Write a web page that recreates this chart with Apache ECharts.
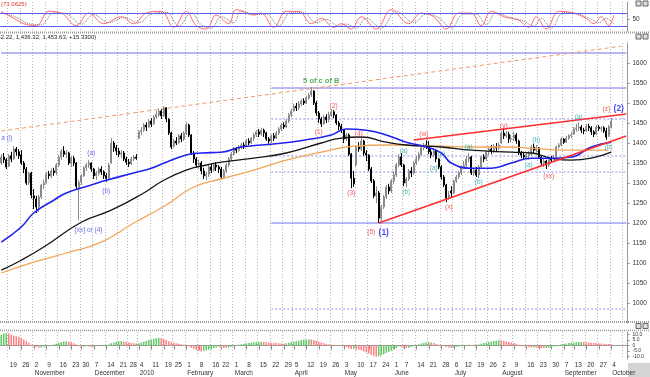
<!DOCTYPE html>
<html>
<head>
<meta charset="utf-8">
<script src="https://cdn.jsdelivr.net/npm/echarts@6/dist/echarts.min.js"></script>
<style>
  html, body { margin: 0; padding: 0; background: #fff; }
  #chart { width: 650px; height: 377px; }
</style>
</head>
<body>
<div id="chart"></div>
<script>
const FONT = 'Liberation Sans';

// trading days, Oct 14 2009 onwards
const holidays = ['2009-11-26', '2009-12-25', '2010-01-01', '2010-01-18', '2010-02-15',
  '2010-04-02', '2010-05-31', '2010-07-05', '2010-09-06'];
const monthNames = ['January', 'February', 'March', 'April', 'May', 'June', 'July',
  'August', 'September', 'October', 'November', 'December'];

// daily bars: [open, close, low, high]
const candles = [
  [1350,1365,1345,1372],[1365,1358,1350,1375],[1358,1340,1335,1362],[1342,1368,1340,1372],
  [1368,1360,1352,1378],[1360,1385,1358,1392],[1385,1378,1368,1390],[1378,1368,1360,1385],
  [1370,1350,1345,1382],[1350,1335,1325,1355],[1335,1300,1295,1340],[1300,1325,1295,1328],
  [1325,1270,1262,1328],[1268,1262,1235,1285],[1260,1240,1225,1268],[1240,1265,1228,1270],
  [1265,1295,1260,1298],[1295,1300,1285,1308],[1300,1322,1298,1328],[1322,1318,1310,1330],
  [1318,1330,1312,1336],[1330,1326,1318,1338],[1326,1345,1320,1350],[1345,1365,1340,1370],
  [1365,1380,1358,1385],[1380,1372,1365,1392],[1372,1375,1362,1382],[1375,1350,1345,1378],
  [1350,1362,1340,1368],[1362,1350,1342,1368],[1350,1292,1285,1352],[1285,1302,1207,1308],
  [1302,1318,1295,1322],[1318,1338,1315,1342],[1338,1345,1330,1350],[1345,1350,1338,1358],
  [1350,1335,1328,1352],[1335,1318,1310,1338],[1318,1325,1308,1330],[1325,1335,1318,1340],
  [1335,1328,1320,1342],[1328,1318,1310,1332],[1318,1312,1303,1325],[1312,1345,1310,1350],
  [1350,1400,1348,1412],[1400,1388,1378,1405],[1388,1380,1370,1395],[1380,1372,1365,1388],
  [1372,1375,1362,1382],[1375,1360,1355,1380],[1360,1352,1345,1366],[1352,1348,1340,1360],
  [1348,1360,1345,1365],[1360,1365,1355,1370],[1365,1362,1358,1372],[1412,1428,1410,1432],
  [1428,1432,1420,1440],[1432,1445,1428,1450],[1445,1440,1430,1452],[1440,1455,1438,1460],
  [1455,1448,1440,1462],[1448,1465,1445,1470],[1465,1472,1460,1480],[1470,1480,1465,1486],
  [1480,1468,1460,1484],[1468,1488,1465,1492],[1488,1460,1452,1490],[1460,1425,1420,1462],
  [1425,1390,1385,1428],[1392,1405,1388,1410],[1405,1400,1395,1415],[1400,1418,1398,1422],
  [1418,1410,1402,1425],[1410,1425,1405,1430],[1425,1445,1420,1452],[1445,1420,1415,1448],
  [1420,1375,1370,1422],[1375,1360,1350,1380],[1360,1345,1338,1365],[1345,1350,1335,1358],
  [1350,1330,1322,1355],[1330,1318,1310,1338],[1318,1322,1307,1328],[1322,1340,1315,1345],
  [1340,1332,1325,1348],[1332,1345,1328,1350],[1345,1340,1330,1352],[1340,1335,1325,1345],
  [1335,1315,1310,1340],[1315,1330,1312,1335],[1330,1345,1325,1350],[1345,1360,1340,1365],
  [1360,1372,1355,1378],[1372,1385,1368,1390],[1385,1382,1375,1390],[1382,1390,1378,1395],
  [1390,1395,1385,1400],[1395,1392,1385,1402],[1392,1405,1390,1410],[1405,1400,1395,1412],
  [1400,1412,1398,1415],[1412,1420,1405,1425],[1420,1428,1415,1432],[1428,1422,1415,1435],
  [1422,1432,1418,1438],[1432,1425,1415,1436],[1425,1410,1405,1428],[1410,1405,1398,1415],
  [1405,1418,1400,1422],[1418,1412,1405,1425],[1412,1425,1410,1430],[1425,1435,1420,1440],
  [1435,1445,1430,1450],[1445,1440,1435,1452],[1440,1455,1438,1460],[1455,1470,1450,1475],
  [1470,1480,1465,1485],[1480,1492,1478,1498],[1492,1488,1480,1500],[1488,1498,1482,1505],
  [1498,1505,1492,1510],[1505,1500,1495,1512],[1500,1512,1498,1518],[1512,1520,1508,1525],
  [1520,1530,1515,1540],[1530,1500,1495,1532],[1500,1475,1468,1505],[1475,1460,1450,1480],
  [1460,1448,1440,1465],[1448,1465,1445,1470],[1465,1458,1450,1472],[1458,1470,1452,1478],
  [1470,1478,1465,1484],[1478,1470,1462,1482],[1470,1450,1445,1472],[1450,1442,1432,1455],
  [1442,1432,1425,1448],[1432,1410,1400,1435],[1410,1420,1405,1425],[1420,1372,1368,1424],
  [1372,1312,1287,1375],[1312,1298,1290,1330],[1345,1390,1340,1395],[1390,1385,1378,1402],
  [1385,1405,1380,1415],[1405,1375,1368,1408],[1375,1370,1355,1382],[1370,1335,1330,1372],
  [1335,1305,1300,1340],[1305,1268,1262,1310],[1268,1275,1250,1292],[1275,1212,1200,1280],
  [1212,1240,1205,1245],[1240,1265,1235,1270],[1265,1290,1260,1295],[1290,1280,1272,1298],
  [1280,1305,1275,1310],[1305,1320,1298,1330],[1320,1345,1315,1350],[1345,1365,1340,1372],
  [1365,1345,1340,1375],[1345,1300,1292,1348],[1300,1310,1290,1315],[1310,1330,1305,1335],
  [1330,1325,1315,1340],[1325,1350,1320,1355],[1350,1360,1345,1368],[1360,1372,1355,1378],
  [1372,1388,1368,1392],[1388,1395,1382,1400],[1395,1392,1385,1407],[1392,1378,1372,1405],
  [1378,1370,1362,1385],[1370,1380,1365,1388],[1380,1360,1352,1382],[1360,1340,1335,1362],
  [1340,1315,1308,1345],[1315,1295,1290,1320],[1295,1262,1252,1298],[1262,1270,1258,1280],
  [1280,1275,1265,1292],[1275,1305,1272,1308],[1305,1315,1300,1320],[1315,1325,1310,1330],
  [1325,1340,1320,1345],[1340,1345,1335,1355],[1345,1360,1340,1368],[1360,1365,1352,1375],
  [1365,1325,1320,1368],[1325,1332,1318,1338],[1332,1320,1315,1340],[1320,1340,1312,1345],
  [1340,1365,1335,1368],[1365,1360,1352,1372],[1360,1378,1355,1382],[1378,1385,1370,1390],
  [1385,1380,1372,1395],[1380,1390,1375,1398],[1390,1388,1378,1400],[1388,1395,1382,1402],
  [1400,1425,1398,1430],[1425,1418,1410,1437],[1418,1422,1412,1430],[1422,1410,1400,1428],
  [1410,1412,1402,1420],[1412,1420,1405,1428],[1420,1405,1398,1425],[1405,1375,1370,1408],
  [1375,1370,1362,1380],[1370,1365,1358,1378],[1365,1368,1358,1375],[1368,1372,1358,1380],
  [1372,1390,1368,1395],[1390,1382,1375,1398],[1382,1388,1376,1395],[1388,1365,1360,1390],
  [1365,1350,1345,1368],[1350,1355,1340,1360],[1355,1345,1335,1358],[1345,1362,1340,1366],
  [1362,1358,1350,1368],[1358,1362,1352,1370],[1365,1390,1362,1394],[1390,1395,1386,1400],
  [1395,1410,1392,1415],[1410,1402,1398,1412],[1402,1412,1400,1418],[1412,1418,1408,1422],
  [1418,1420,1412,1428],[1422,1435,1420,1440],[1435,1438,1428,1448],[1438,1440,1430,1452],
  [1440,1432,1425,1445],[1432,1430,1422,1438],[1430,1442,1428,1448],[1442,1438,1430,1448],
  [1438,1428,1420,1442],[1428,1422,1415,1432],[1422,1440,1420,1445],[1440,1436,1430,1445],
  [1436,1438,1428,1442],[1438,1430,1425,1442],[1430,1415,1408,1438],[1418,1440,1415,1445],
  [1440,1455,1436,1462]
];

// moving averages: [day index, value]
const maBlue = [[0,1152],[8,1190],[13,1225],[21,1257],[26,1275],[36,1295],[42,1307],[53,1325],
  [60,1337],[66,1352],[74,1370],[80,1375],[88,1377],[96,1390],[108,1397],[121,1407],[132,1420],
  [138,1435],[146,1432],[154,1420],[162,1402],[170,1390],[176,1375],[180,1350],[188,1337],
  [196,1337],[204,1350],[212,1362],[220,1362],[228,1365],[236,1390],[244,1402]];
const maBlack = [[0,1082],[8,1107],[17,1140],[32,1202],[44,1232],[57,1275],[65,1307],[74,1332],
  [82,1345],[88,1352],[101,1362],[114,1375],[128,1400],[136,1412],[144,1415],[154,1402],
  [162,1395],[176,1390],[188,1382],[204,1377],[212,1375],[220,1362],[228,1357],[236,1362],
  [244,1377]];
const maOrange = [[0,1075],[13,1102],[26,1125],[40,1152],[53,1200],[66,1245],[77,1290],
  [88,1310],[101,1332],[114,1357],[128,1377],[141,1392],[154,1395],[176,1392],[188,1390],
  [204,1390],[212,1387],[228,1382],[243,1382]];

// stochastic oscillator (top panel)
const oscFast = [[0,86],[5,55],[9,30],[14,21],[19,87],[24,79],[30,21],[35,79],[41,30],[48,62],
  [53,30],[58,79],[64,87],[69,13],[74,87],[78,21],[82,5],[86,70],[91,30],[94,95],[101,70],
  [104,79],[109,13],[114,87],[119,87],[124,30],[128,54],[133,13],[136,30],[140,5],[144,62],
  [150,5],[156,95],[163,30],[168,79],[173,62],[178,5],[183,79],[188,79],[192,21],[196,87],
  [201,62],[207,46],[211,13],[214,62],[218,5],[223,87],[229,79],[234,54],[237,30],[240,62],
  [243,21],[245,70]];
const oscSlow = [[0,80],[6,60],[11,30],[16,25],[21,80],[26,75],[32,28],[37,72],[43,35],[49,58],
  [55,35],[60,74],[66,82],[71,20],[76,80],[80,25],[84,10],[88,62],[93,35],[96,88],[102,72],
  [106,74],[111,20],[116,82],[121,80],[126,35],[130,50],[135,18],[138,28],[142,10],[146,55],
  [152,10],[158,88],[165,35],[170,74],[175,58],[180,10],[185,74],[190,74],[194,26],[198,80],
  [203,60],[209,42],[213,18],[216,55],[220,10],[225,82],[231,74],[236,50],[239,35],[242,55],
  [245,30]];
const oscBands = [80, 20];

// histogram (bottom panel), one per day
const histValues = [
  10,11,11.5,11, 10,9,8.5,8,7, 5.5,4,2.5, 0.5,-1,-1.5,-2,-1.8, -1.2,-0.8,-0.3,0.3,
  1,1.8,2.5,3.2,3.8,4, 3.5,3,2,1, -0.5,-1.5,-1.2,-0.8,-1,-1.5,-1.2,-0.6, -0.3,0,0.3,0.5,1,
  2,2.8,3.5,4,4.2, 3.8,3.3,2.8,2.2,2,1.8,2, 2.8,3.5,4.2,5,5.6,6.2,6.8,7.2, 6.8,6,5,4,3,
  2.5,2,1.6,1.2,0.8,0.3, -0.8,-2,-3.2,-4.2,-5, -5.5,-5,-4.5,-4,-3.2,-2.5,-1.8,-1.2,
  -1.6,-2,-2.2,-1.8,-1.2, -0.6,0,0.6,1.2,1.6,2, 2.3,2.6,2.9,3.1,3.3,3.5,3.3,3.1,
  2.8,2.6,2.4,2.2,2,1.8,1.7,2, 2.5,3,3.5,4,4.5,5,5.3,5.6,5.8, 5.5,5,4.3,3.5,2.8,2.2,1.5,1,
  0.8,0.6,0.4,0.2,0, -0.8,-1.5,-2.5,-3.2,-3,-3.5,-4, -4.5,-5.5,-6.5,-7.5,-8.5,-9.5,-10.5,
  -10,-9,-8,-7, -6,-4.8,-3.5,-2.2,-1, -1.3,-1.8,-2.2,-2,-1.4, -0.6,0.2,1,1.8,2.4,2.8,3,2.8,
  2.2,1.5,0.8,0,-0.8,-1.4, -1.8,-2,-1.8,-1.5,-1, -0.6,-0.2,0.2,0.6,0.5,0.4,0.6,1,
  1.6,2.2,2.8,3.3,3.8,4.2,4.5,4.8, 4.6,4.2,3.8,3.3,2.8,2.2,1.6,0.8,
  0,-0.6,-1.2,-1.6,-1.8,-1.6,-1.8,-2, -2.2,-2.4,-2.2,-2,-1.6, -1,-0.3,0.4,1,1.5,1.8,
  2.2,2.5,2.8,3,3.2,3.3,3.2,3, 2.8,2.6,2.4,2.2,2,1.8,1.6,1.4,1.3,1.2
];

// drawn lines on the price panel: [[i1, v1], [i2, v2]]
const levelsSolid = [[[0,1625],[250,1625]], [[108,1537.5],[250,1537.5]], [[108,1200],[250,1200]]];
const levelsDotted = [[[108,1460],[250,1460]], [[108,1367.5],[250,1367.5]],
  [[108,1327.5],[250,1327.5]], [[108,985],[250,985]]];
const channelLine = [[0,1430],[248,1642]];
const trendLower = [[151,1200],[250,1417.5]];
const trendUpper = [[165,1407.5],[250,1472.5]];

// wave labels: [text, day index, price, kind]
const waveLabels = [
  ['5 of c of B', 128, 1555, 'title'],
  ['(1)', 127, 1427, 'red'], ['(2)', 133, 1492, 'red'], ['(3)', 140, 1275, 'red'],
  ['(4)', 143, 1422, 'red'], ['(5)', 148, 1177, 'red'], ['(1)', 153, 1177, 'major'],
  ['(w)', 169, 1422, 'red'], ['(x)', 179, 1240, 'red'], ['(y)', 201, 1442, 'red'],
  ['(xx)', 219, 1317, 'red'], ['(z)', 242, 1485, 'red'], ['(2)', 247, 1485, 'major'],
  ['(a)', 161, 1380, 'minor'], ['(b)', 162, 1277, 'minor'], ['(c)', 176, 1372, 'minor'],
  ['(a)', 173, 1337, 'minor'], ['(a)', 187, 1390, 'minor'], ['(b)', 191, 1302, 'minor'],
  ['(a)', 211, 1345, 'minor'], ['(b)', 214, 1407, 'minor'], ['(a)', 231, 1465, 'minor'],
  ['(b)', 243, 1390, 'minor'],
  ['a (i)', 0, 1412, 'left'], ['(a)', 36, 1375, 'wave'], ['(b)', 42, 1280, 'wave'],
  ['[xx] or (4)', 35, 1182, 'wave']
];

const priceTicks = [1000, 1050, 1100, 1150, 1200, 1250, 1300, 1350, 1400, 1450, 1500, 1550, 1600];
const histTicks = [-10, -5, 0, 5, 10];

// ---- build the date axis ----
const dates = [];
let d = new Date(Date.UTC(2009, 9, 14));
while (dates.length < 251) {
  const s = d.toISOString().slice(0, 10);
  const wd = d.getUTCDay();
  if (wd !== 0 && wd !== 6 && holidays.indexOf(s) < 0) dates.push(s);
  d = new Date(d.getTime() + 86400000);
}
const tickLabel = dates.map(() => null);
let prevMonth = 9;
for (let i = 1; i < dates.length; i++) {
  const a = new Date(dates[i - 1] + 'T00:00:00Z');
  const b = new Date(dates[i] + 'T00:00:00Z');
  if (b.getUTCDay() <= a.getUTCDay()) {
    const m = b.getUTCMonth();
    let txt = String(b.getUTCDate());
    if (m !== prevMonth) {
      txt += '\n' + (m === 0 ? String(b.getUTCFullYear()) : monthNames[m]);
      prevMonth = m;
    }
    tickLabel[i] = txt;
  }
}
const isTick = (i) => tickLabel[i] !== null;

const labelStyle = {
  title: { color: '#2a9a2a', fontWeight: 'bold', fontSize: 7.5 },
  red: { color: '#f03030', fontSize: 6.5 },
  major: { color: '#1a1aee', fontWeight: 'bold', fontSize: 8.5 },
  minor: { color: '#1f9f9f', fontSize: 6.5 },
  wave: { color: '#4545e8', fontSize: 6.5 },
  left: { color: '#4545e8', fontSize: 6.5, position: 'right', distance: 0 }
};

const GRID_RIGHT = 650 - 251 * 2.5;

function xAxisFor(gi, showLabels) {
  return {
    type: 'category', gridIndex: gi, data: dates, boundaryGap: true,
    axisLine: { show: showLabels, lineStyle: { color: '#999' } },
    axisTick: { show: showLabels, interval: isTick, alignWithLabel: true, length: 4, lineStyle: { color: '#888' } },
    axisLabel: {
      show: showLabels, interval: isTick, align: 'left', margin: 2, padding: [0, 0, 0, 1],
      fontSize: 6.5, lineHeight: 8, color: '#333', fontFamily: FONT,
      formatter: (v, i) => tickLabel[i] || ''
    },
    splitLine: { show: true, interval: isTick, lineStyle: { color: '#b4b4b4', type: [1, 2], width: 1 } }
  };
}

function yRight(gi, min, max, ticks, fmt, size) {
  return {
    type: 'value', gridIndex: gi, position: 'right', min: min, max: max,
    axisLine: { show: true, lineStyle: { color: '#999' } },
    axisTick: { show: true, customValues: ticks, length: 2, lineStyle: { color: '#888' } },
    axisLabel: { customValues: ticks, fontSize: size, color: '#333', margin: 5, fontFamily: FONT, formatter: fmt },
    splitLine: { show: false }
  };
}

function segment(pts, color, type, width) {
  return {
    type: 'line', xAxisIndex: 1, yAxisIndex: 1, data: pts, showSymbol: false, silent: true,
    lineStyle: { color: color, type: type, width: width }, z: 1
  };
}

const series = [];

// oscillator
series.push({
  type: 'line', xAxisIndex: 0, yAxisIndex: 0, data: oscSlow, smooth: 0.4, showSymbol: false,
  lineStyle: { color: '#777', width: 1, type: [1, 1] },
  markLine: {
    symbol: 'none', silent: true, label: { show: false },
    lineStyle: { color: '#5a5af5', type: 'solid', width: 1.2 },
    data: oscBands.map(v => ({ yAxis: v }))
  }
});
series.push({
  type: 'line', xAxisIndex: 0, yAxisIndex: 0, data: oscFast, smooth: 0.4, showSymbol: false,
  lineStyle: { color: '#ff6a6a', width: 1 }
});

// price panel levels and trend lines
levelsSolid.forEach(p => series.push(segment(p, '#7272f2', 'solid', 1)));
levelsDotted.forEach(p => series.push(segment(p, '#8c8cf0', [2, 2], 1)));
series.push(segment(channelLine, '#f29a68', [4, 3], 1));

series.push({
  type: 'candlestick', xAxisIndex: 1, yAxisIndex: 1, data: candles, barWidth: '70%',
  itemStyle: { color: '#cfcfcf', color0: '#000', borderColor: '#8a8a8a', borderColor0: '#000', borderWidth: 1 },
  z: 3
});

[[maOrange, '#f2a55a', 1.3], [maBlack, '#151515', 1.3], [maBlue, '#2020f0', 1.6]].forEach(m => {
  series.push({
    type: 'line', xAxisIndex: 1, yAxisIndex: 1, data: m[0], smooth: 0.5, showSymbol: false,
    lineStyle: { color: m[1], width: m[2] }, z: 4
  });
});

series.push(Object.assign(segment(trendLower, '#ff2d2d', 'solid', 1.6), { z: 5 }));
series.push(Object.assign(segment(trendUpper, '#ff2d2d', 'solid', 1.6), { z: 5 }));

series.push({
  type: 'scatter', xAxisIndex: 1, yAxisIndex: 1, symbolSize: 0, silent: true, z: 6,
  data: waveLabels.map(w => ({
    value: [w[1], w[2]],
    label: Object.assign({ show: true, position: 'inside', formatter: w[0], fontFamily: FONT }, labelStyle[w[3]])
  }))
});

// histogram
series.push({
  type: 'bar', xAxisIndex: 2, yAxisIndex: 2, barWidth: '60%', silent: true,
  data: histValues.map((v, i) => ({
    value: v,
    itemStyle: { color: (i > 0 && v > histValues[i - 1]) || (i === 0) ? '#63c963' : '#ff8080' }
  }))
});

const option = {
  animation: false,
  backgroundColor: '#fff',
  textStyle: { fontFamily: FONT },
  grid: [
    { left: 0, right: GRID_RIGHT, top: 2, height: 29.25 },
    { left: 0, right: GRID_RIGHT, top: 43, height: 280 },
    { left: 0, right: GRID_RIGHT, top: 332, height: 30 }
  ],
  xAxis: [xAxisFor(0, false), xAxisFor(1, false), xAxisFor(2, true)],
  yAxis: [
    yRight(0, -5, 130, [50], v => String(v), 6.5),
    yRight(1, 950, 1650, priceTicks, v => String(v), 6.5),
    yRight(2, -12.5, 12.5, histTicks, v => (v === 0 ? '0' : v.toFixed(1)), 5)
  ],
  series: series,
  graphic: [
    { type: 'line', shape: { x1: 0, y1: 32.5, x2: 650, y2: 32.5 }, style: { stroke: '#9a9a9a', lineWidth: 2, lineDash: [1, 1] }, silent: true },
    { type: 'line', shape: { x1: 0, y1: 322, x2: 650, y2: 322 }, style: { stroke: '#9a9a9a', lineWidth: 2, lineDash: [1, 1] }, silent: true },
    { type: 'line', shape: { x1: 0, y1: 330.5, x2: 650, y2: 330.5 }, style: { stroke: '#9a9a9a', lineWidth: 1.5, lineDash: [1, 1] }, silent: true },
    { type: 'text', left: 1, top: 1, style: { text: '(73.0625)', fill: '#e83030', font: '6px ' + FONT }, silent: true },
    { type: 'text', left: -11, top: 34, style: { text: '1,162.22, 1,436.32, 1,453.63, +15.3300)', fill: '#222', font: '6px ' + FONT }, silent: true },
    { type: 'rect', shape: { x: 636, y: 1, width: 5, height: 5 }, style: { fill: '#ddd', stroke: '#666', lineWidth: 1 }, silent: true },
    { type: 'rect', shape: { x: 643, y: 1, width: 5, height: 5 }, style: { fill: '#ddd', stroke: '#666', lineWidth: 1 }, silent: true },
    { type: 'rect', shape: { x: 636, y: 34, width: 5, height: 5 }, style: { fill: '#ddd', stroke: '#666', lineWidth: 1 }, silent: true },
    { type: 'rect', shape: { x: 643, y: 34, width: 5, height: 5 }, style: { fill: '#ddd', stroke: '#666', lineWidth: 1 }, silent: true },
    { type: 'rect', shape: { x: 636, y: 323.5, width: 5, height: 5 }, style: { fill: '#ddd', stroke: '#666', lineWidth: 1 }, silent: true },
    { type: 'rect', shape: { x: 643, y: 323.5, width: 5, height: 5 }, style: { fill: '#ddd', stroke: '#666', lineWidth: 1 }, silent: true },
    { type: 'rect', shape: { x: 628, y: 363, width: 22, height: 14 }, style: { fill: '#d4d4d4' }, silent: true }
  ]
};

const chart = echarts.init(document.getElementById('chart'), null, { renderer: 'canvas', width: 650, height: 377 });
chart.setOption(option);
</script>
</body>
</html>
